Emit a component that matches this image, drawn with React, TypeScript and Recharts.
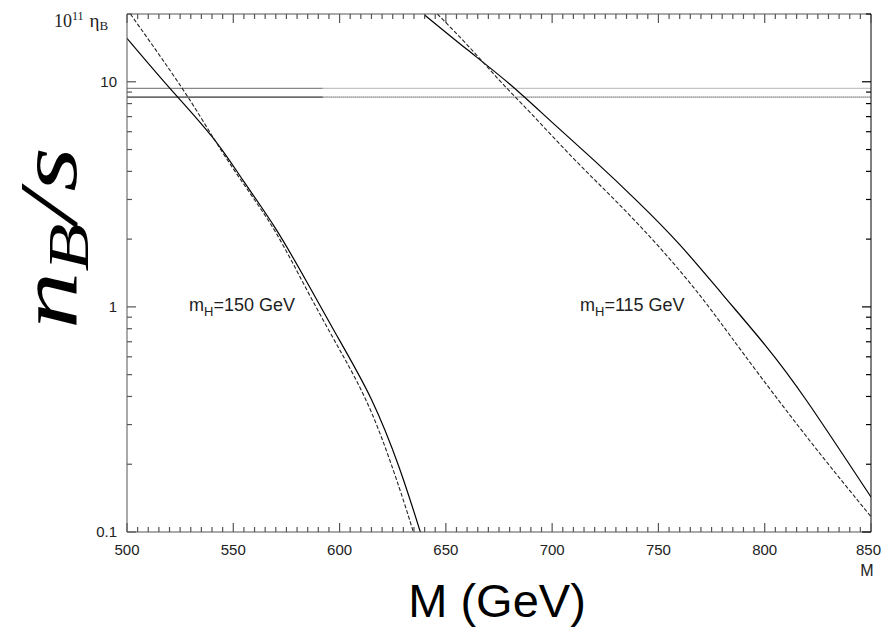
import React from 'react';
import { ComposedChart, Line, XAxis, YAxis } from 'recharts';

// M (GeV) vs n_B/s
const solid150 = [
    { x: 500, y: 15.6 }, { x: 520, y: 9.4 }, { x: 540, y: 5.7 }, { x: 555, y: 3.6 },
    { x: 570, y: 2.22 }, { x: 585, y: 1.27 }, { x: 600, y: 0.71 }, { x: 615, y: 0.388 },
    { x: 628, y: 0.194 }, { x: 638, y: 0.1 },
];
const dashed150 = [
    { x: 501.6, y: 20 }, { x: 526, y: 9.34 }, { x: 540.7, y: 5.62 }, { x: 555, y: 3.5 },
    { x: 570, y: 2.14 }, { x: 585, y: 1.17 }, { x: 600, y: 0.646 }, { x: 615, y: 0.34 },
    { x: 628, y: 0.158 }, { x: 634.7, y: 0.1 },
];
const solid115 = [
    { x: 640, y: 19.8 }, { x: 660, y: 13.9 }, { x: 680, y: 9.77 }, { x: 700, y: 6.6 },
    { x: 720, y: 4.45 }, { x: 740, y: 2.95 }, { x: 760, y: 1.89 }, { x: 780, y: 1.14 },
    { x: 800, y: 0.68 }, { x: 820, y: 0.38 }, { x: 850, y: 0.143 },
];
const dashed115 = [
    { x: 646, y: 20 }, { x: 660, y: 14.6 }, { x: 675, y: 10.2 }, { x: 690, y: 7.24 },
    { x: 710, y: 4.57 }, { x: 730, y: 2.95 }, { x: 750, y: 1.86 }, { x: 770, y: 1.11 },
    { x: 790, y: 0.62 }, { x: 820, y: 0.263 }, { x: 850, y: 0.117 },
];
// observed band
const bandUpper = 9.34;
const bandLower = 8.55;
const bandSolidEnd = 592;

const upperSolid = [{ x: 500, y: bandUpper }, { x: bandSolidEnd, y: bandUpper }];
const upperDotted = [{ x: bandSolidEnd, y: bandUpper }, { x: 850, y: bandUpper }];
const lowerSolid = [{ x: 500, y: bandLower }, { x: bandSolidEnd, y: bandLower }];
const lowerDotted = [{ x: bandSolidEnd, y: bandLower }, { x: 850, y: bandLower }];

const xMajor = [500, 550, 600, 650, 700, 750, 800, 850];
const xTicks: number[] = [];
for (let v = 500; v <= 850; v += 5) xTicks.push(v);
const yTicks = [0.1, 0.2, 0.3, 0.4, 0.5, 0.6, 0.7, 0.8, 0.9, 1, 2, 3, 4, 5, 6, 7, 8, 9, 10, 20];
const yLabels: Record<string, string> = { '0.1': '0.1', '1': '1', '10': '10' };

const sans = '"Liberation Sans", Arial, sans-serif';
const serif = '"Liberation Serif", "Times New Roman", serif';
const axisColor = '#555';

const BottomTick = (props: any) => {
    const { x, y, payload } = props;
    const major = xMajor.includes(payload.value);
    const last = payload.value === 850;
    return (
        <g>
            <path d={`M${x},${y}V${y - (major ? 9 : 5)}`} stroke={axisColor} strokeWidth={1.2} fill="none" />
            {major && (
                <text
                    x={last ? 881 : x} y={y + 23} textAnchor={last ? 'end' : 'middle'}
                    fontSize={15} fontFamily={sans} fill="#222"
                >
                    {payload.value}
                </text>
            )}
        </g>
    );
};

const TopTick = (props: any) => {
    const { x, y, payload } = props;
    const major = xMajor.includes(payload.value);
    return <path d={`M${x},${y}V${y + (major ? 9 : 5)}`} stroke={axisColor} strokeWidth={1.2} fill="none" />;
};

const LeftTick = (props: any) => {
    const { x, y, payload } = props;
    const label = yLabels[String(payload.value)];
    return (
        <g>
            <path d={`M${x},${y}H${x + (label ? 9 : 5)}`} stroke={axisColor} strokeWidth={1.2} fill="none" />
            {label && (
                <text x={x - 10} y={y + 5} textAnchor="end" fontSize={15} fontFamily={sans} fill="#222">
                    {label}
                </text>
            )}
        </g>
    );
};

const RightTick = (props: any) => {
    const { x, y, payload } = props;
    const major = !!yLabels[String(payload.value)];
    return <path d={`M${x},${y}H${x - (major ? 9 : 5)}`} stroke="#000" strokeWidth={1.2} fill="none" />;
};

const App: React.FC = () => {
    return (
        <div style={{ position: 'absolute', left: 0, top: 0, width: 882, height: 629, background: '#fff' }}>
            <ComposedChart width={882} height={629} margin={{ top: 0, right: 0, bottom: 0, left: 0 }}>
                <XAxis
                    xAxisId="b" type="number" dataKey="x" domain={[500, 850]} ticks={xTicks}
                    height={97} tick={BottomTick} tickLine={false} tickSize={0} tickMargin={0}
                    axisLine={{ stroke: axisColor }} interval={0} allowDataOverflow
                />
                <XAxis
                    xAxisId="t" orientation="top" type="number" dataKey="x" domain={[500, 850]} ticks={xTicks}
                    height={14} tick={TopTick} tickLine={false} tickSize={0} tickMargin={0}
                    axisLine={{ stroke: axisColor }} interval={0} allowDataOverflow
                />
                <YAxis
                    yAxisId="l" type="number" scale="log" domain={[0.1, 20]} ticks={yTicks}
                    width={127} tick={LeftTick} tickLine={false} tickSize={0} tickMargin={0}
                    axisLine={{ stroke: axisColor }} interval={0} allowDataOverflow
                />
                <YAxis
                    yAxisId="r" orientation="right" type="number" scale="log" domain={[0.1, 20]} ticks={yTicks}
                    width={11} tick={RightTick} tickLine={false} tickSize={0} tickMargin={0}
                    axisLine={{ stroke: '#000' }} interval={0} allowDataOverflow
                />
                <Line xAxisId="b" yAxisId="l" data={upperSolid} dataKey="y" stroke="#888" strokeWidth={1.2} dot={false} isAnimationActive={false} />
                <Line xAxisId="b" yAxisId="l" data={upperDotted} dataKey="y" stroke="#888" strokeWidth={1.2} strokeDasharray="1 1" dot={false} isAnimationActive={false} />
                <Line xAxisId="b" yAxisId="l" data={lowerSolid} dataKey="y" stroke="#000" strokeWidth={1} dot={false} isAnimationActive={false} />
                <Line xAxisId="b" yAxisId="l" data={lowerDotted} dataKey="y" stroke="#000" strokeWidth={1} strokeDasharray="1 1" dot={false} isAnimationActive={false} />
                <Line xAxisId="b" yAxisId="l" data={solid150} dataKey="y" type="natural" stroke="#000" strokeWidth={1.2} dot={false} isAnimationActive={false} />
                <Line xAxisId="b" yAxisId="l" data={dashed150} dataKey="y" type="natural" stroke="#222" strokeWidth={1.1} strokeDasharray="4 2" dot={false} isAnimationActive={false} />
                <Line xAxisId="b" yAxisId="l" data={solid115} dataKey="y" type="natural" stroke="#000" strokeWidth={1.2} dot={false} isAnimationActive={false} />
                <Line xAxisId="b" yAxisId="l" data={dashed115} dataKey="y" type="natural" stroke="#222" strokeWidth={1.1} strokeDasharray="4 2" dot={false} isAnimationActive={false} />
            </ComposedChart>
            <svg width={882} height={629} style={{ position: 'absolute', left: 0, top: 0, pointerEvents: 'none' }}>
                <text x={54} y={27} fontFamily={serif} fontSize={18} fill="#222">
                    10<tspan fontSize={12} dy={-7}>11</tspan>
                    <tspan fontSize={19} dy={7} dx={6}>η</tspan>
                    <tspan fontSize={13} dy={3}>B</tspan>
                </text>
                <text x={189} y={311} fontFamily={sans} fontSize={18} fill="#222">
                    m<tspan fontSize={13} dy={5}>H</tspan><tspan dy={-5}>=150 GeV</tspan>
                </text>
                <text x={580} y={311} fontFamily={sans} fontSize={18} fill="#222">
                    m<tspan fontSize={13} dy={5}>H</tspan><tspan dy={-5}>=115 GeV</tspan>
                </text>
                <text x={867} y={576} textAnchor="middle" fontFamily={sans} fontSize={16} fill="#222">M</text>
                <text x={497} y={617} textAnchor="middle" fontFamily={sans} fontSize={47} fill="#000">M (GeV)</text>
                <text
                    transform="translate(76, 238) rotate(-90) scale(1.4, 1)" textAnchor="middle"
                    fontFamily={serif} fontStyle="italic" fontSize={82} fill="#000"
                >
                    n<tspan fontSize={56} dy={12}>B</tspan><tspan dy={-12}>/s</tspan>
                </text>
            </svg>
        </div>
    );
};

export default App;
